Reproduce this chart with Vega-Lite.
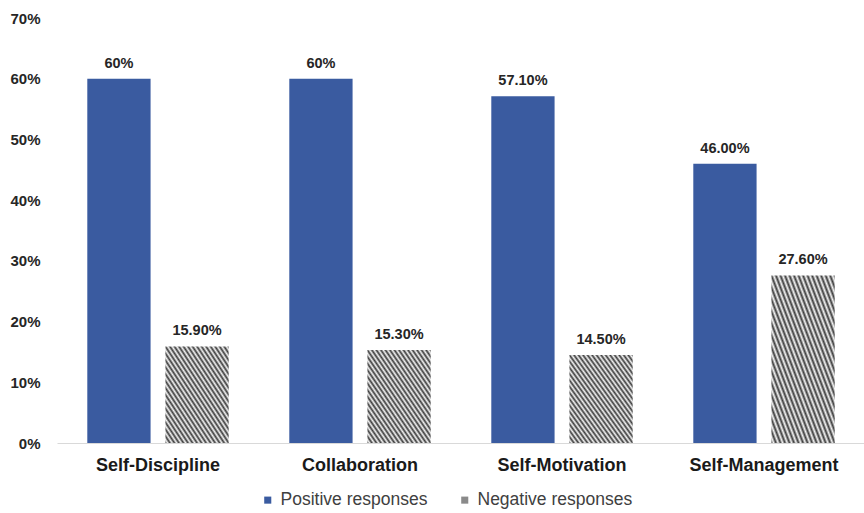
{
  "$schema": "https://vega.github.io/schema/vega-lite/v6.json",
  "width": 808,
  "height": 425,
  "autosize": {"type": "none"},
  "padding": {"left": 57, "top": 18, "right": 0, "bottom": 70},
  "background": "white",
  "config": {"view": {"stroke": null}, "font": "Liberation Sans"},
  "data": {
    "values": [
      {"skill": "Self-Discipline", "type": "Positive responses", "value": 60, "label": "60%"},
      {"skill": "Self-Discipline", "type": "Negative responses", "value": 15.9, "label": "15.90%"},
      {"skill": "Collaboration", "type": "Positive responses", "value": 60, "label": "60%"},
      {"skill": "Collaboration", "type": "Negative responses", "value": 15.3, "label": "15.30%"},
      {"skill": "Self-Motivation", "type": "Positive responses", "value": 57.1, "label": "57.10%"},
      {"skill": "Self-Motivation", "type": "Negative responses", "value": 14.5, "label": "14.50%"},
      {"skill": "Self-Management", "type": "Positive responses", "value": 46, "label": "46.00%"},
      {"skill": "Self-Management", "type": "Negative responses", "value": 27.6, "label": "27.60%"}
    ]
  },
  "encoding": {
    "x": {
      "field": "skill", "type": "nominal", "sort": null,
      "scale": {"paddingInner": 0.3, "paddingOuter": 0.15},
      "axis": {"title": null, "labelAngle": 0, "ticks": false, "domainColor": "#d9d9d9", "domainWidth": 1,
               "labelFont": "Liberation Sans", "labelFontWeight": "bold", "labelFontSize": 18, "labelColor": "#1a1a1a", "labelPadding": 13}
    },
    "xOffset": {"field": "type", "type": "nominal", "sort": ["Positive responses", "Negative responses"],
                "scale": {"paddingInner": 0.19, "paddingOuter": 0}},
    "y": {
      "field": "value", "type": "quantitative",
      "scale": {"domain": [0, 70], "nice": false},
      "axis": {"title": null, "values": [0, 10, 20, 30, 40, 50, 60, 70], "grid": false, "domain": false, "ticks": false,
               "labelExpr": "datum.value + '%'", "labelFont": "Liberation Sans", "labelFontWeight": "bold", "labelFontSize": 15,
               "labelColor": "#262626", "labelPadding": 17}
    }
  },
  "layer": [
    {
      "mark": {"type": "bar"},
      "encoding": {
        "fill": {
          "field": "type", "type": "nominal",
          "sort": ["Positive responses", "Negative responses"],
          "scale": {"domain": ["Positive responses", "Negative responses"], "range": ["#3A5BA0", "#8a8a8a"]},
          "legend": {"title": null, "orient": "none", "legendX": 202, "legendY": 473, "direction": "horizontal",
                     "symbolType": "square", "symbolSize": 50, "symbolStrokeWidth": 0, "labelFont": "Liberation Sans",
                     "labelFontSize": 17.5, "labelColor": "#404040", "columnPadding": 28, "labelOffset": 4, "labelLimit": 300},
          "condition": {
            "test": "datum.type === 'Negative responses'",
            "value": {
              "gradient": "linear", "x1": 0, "y1": 1, "x2": 1, "y2": 0,
              "stops": [
                {"offset": 0, "color": "#3c3c3c"}, {"offset": 0.0179, "color": "#f4f4f4"},
                {"offset": 0.0357, "color": "#3c3c3c"}, {"offset": 0.0536, "color": "#f4f4f4"},
                {"offset": 0.0714, "color": "#3c3c3c"}, {"offset": 0.0893, "color": "#f4f4f4"},
                {"offset": 0.1071, "color": "#3c3c3c"}, {"offset": 0.125, "color": "#f4f4f4"},
                {"offset": 0.1429, "color": "#3c3c3c"}, {"offset": 0.1607, "color": "#f4f4f4"},
                {"offset": 0.1786, "color": "#3c3c3c"}, {"offset": 0.1964, "color": "#f4f4f4"},
                {"offset": 0.2143, "color": "#3c3c3c"}, {"offset": 0.2321, "color": "#f4f4f4"},
                {"offset": 0.25, "color": "#3c3c3c"}, {"offset": 0.2679, "color": "#f4f4f4"},
                {"offset": 0.2857, "color": "#3c3c3c"}, {"offset": 0.3036, "color": "#f4f4f4"},
                {"offset": 0.3214, "color": "#3c3c3c"}, {"offset": 0.3393, "color": "#f4f4f4"},
                {"offset": 0.3571, "color": "#3c3c3c"}, {"offset": 0.375, "color": "#f4f4f4"},
                {"offset": 0.3929, "color": "#3c3c3c"}, {"offset": 0.4107, "color": "#f4f4f4"},
                {"offset": 0.4286, "color": "#3c3c3c"}, {"offset": 0.4464, "color": "#f4f4f4"},
                {"offset": 0.4643, "color": "#3c3c3c"}, {"offset": 0.4821, "color": "#f4f4f4"},
                {"offset": 0.5, "color": "#3c3c3c"}, {"offset": 0.5179, "color": "#f4f4f4"},
                {"offset": 0.5357, "color": "#3c3c3c"}, {"offset": 0.5536, "color": "#f4f4f4"},
                {"offset": 0.5714, "color": "#3c3c3c"}, {"offset": 0.5893, "color": "#f4f4f4"},
                {"offset": 0.6071, "color": "#3c3c3c"}, {"offset": 0.625, "color": "#f4f4f4"},
                {"offset": 0.6429, "color": "#3c3c3c"}, {"offset": 0.6607, "color": "#f4f4f4"},
                {"offset": 0.6786, "color": "#3c3c3c"}, {"offset": 0.6964, "color": "#f4f4f4"},
                {"offset": 0.7143, "color": "#3c3c3c"}, {"offset": 0.7321, "color": "#f4f4f4"},
                {"offset": 0.75, "color": "#3c3c3c"}, {"offset": 0.7679, "color": "#f4f4f4"},
                {"offset": 0.7857, "color": "#3c3c3c"}, {"offset": 0.8036, "color": "#f4f4f4"},
                {"offset": 0.8214, "color": "#3c3c3c"}, {"offset": 0.8393, "color": "#f4f4f4"},
                {"offset": 0.8571, "color": "#3c3c3c"}, {"offset": 0.875, "color": "#f4f4f4"},
                {"offset": 0.8929, "color": "#3c3c3c"}, {"offset": 0.9107, "color": "#f4f4f4"},
                {"offset": 0.9286, "color": "#3c3c3c"}, {"offset": 0.9464, "color": "#f4f4f4"},
                {"offset": 0.9643, "color": "#3c3c3c"}, {"offset": 0.9821, "color": "#f4f4f4"},
                {"offset": 1, "color": "#3c3c3c"}
              ]
            }
          }
        }
      }
    },
    {
      "mark": {"type": "text", "baseline": "bottom", "dy": -8, "font": "Liberation Sans", "fontWeight": "bold", "fontSize": 14.5, "color": "#262626"},
      "encoding": {"text": {"field": "label", "type": "nominal"}}
    }
  ]
}
